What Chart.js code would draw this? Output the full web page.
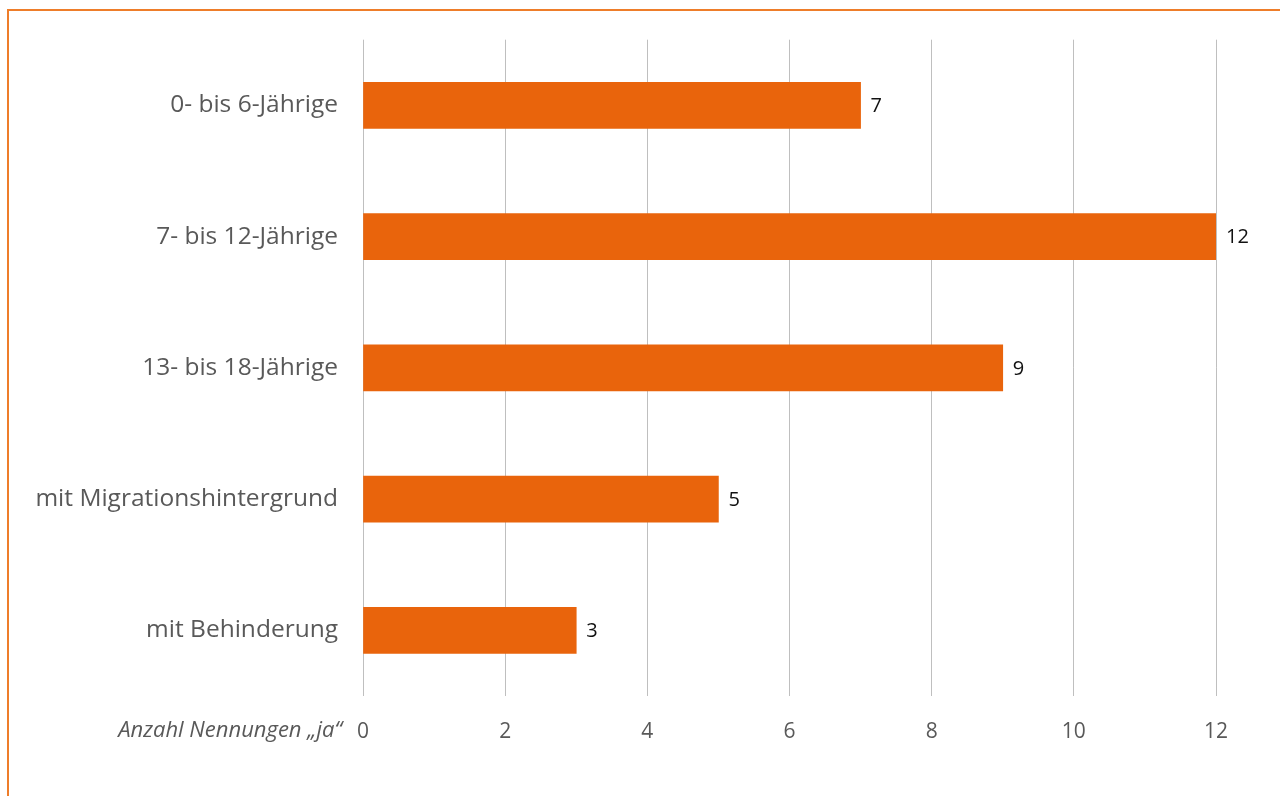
<!DOCTYPE html>
<html>
<head>
<meta charset="utf-8">
<script src="https://cdn.jsdelivr.net/npm/chart.js@4"></script>
<style>
    body { margin: 0; background: #ffffff; overflow: hidden; }
    #frame {
        position: absolute; left: 7px; top: 9px; width: 1400px; height: 900px;
        border-top: 2px solid #EE7D2A; border-left: 2px solid #EE7D2A;
    }
    #wrap { position: absolute; left: 0; top: 0; width: 1280px; height: 796px; }
</style>
</head>
<body>
<div id="frame"></div>
<div id="wrap"><canvas id="bar-chart"></canvas></div>
<script>
// chart data
var categories = ['0- bis 6-Jährige', '7- bis 12-Jährige', '13- bis 18-Jährige', 'mit Migrationshintergrund', 'mit Behinderung'];
var counts = [7, 12, 9, 5, 3];
var tickValues = [0, 2, 4, 6, 8, 10, 12];
var axisTitle = 'Anzahl Nennungen \u201Eja\u201C';

// writes the value next to each bar
var valueLabels = {
    id: 'valueLabels',
    afterDatasetsDraw: function(chart) {
        var c = chart.ctx;
        var meta = chart.getDatasetMeta(0);
        c.save();
        c.font = '20px "Open Sans"';
        c.fillStyle = '#111111';
        c.textAlign = 'left';
        c.textBaseline = 'middle';
        meta.data.forEach(function(bar, i) {
            c.fillText(counts[i], bar.x + 10, bar.y + 1);
        });
        c.restore();
    }
};

// writes the axis title left of the x tick labels
var axisCaption = {
    id: 'axisCaption',
    afterDraw: function(chart) {
        var c = chart.ctx;
        var area = chart.chartArea;
        c.save();
        c.font = 'italic 22px "Open Sans"';
        c.fillStyle = '#595959';
        c.textAlign = 'right';
        c.textBaseline = 'middle';
        c.fillText(axisTitle, area.left - 21, 731);
        c.restore();
    }
};

var ctx = document.getElementById('bar-chart').getContext('2d');

var myChart = new Chart(ctx, {
    type: 'bar',
    data: {
        labels: categories,
        datasets: [{
            data: counts,
            backgroundColor: '#E9640C',
            barThickness: 46
        }]
    },
    options: {
        indexAxis: 'y',
        responsive: true,
        maintainAspectRatio: false,
        animation: false,
        layout: { padding: { top: 38, right: 64, left: 0, bottom: 0 } },
        plugins: { legend: { display: false }, tooltip: { enabled: false } },
        scales: {
            x: {
                min: 0,
                max: 12,
                afterBuildTicks: function(scale) {
                    scale.ticks = tickValues.map(function(v) { return { value: v }; });
                },
                afterFit: function(scale) { scale.height = 100; },
                grid: { color: '#BFBFBF', lineWidth: 1, drawTicks: false },
                border: { display: false },
                ticks: {
                    padding: 23,
                    color: '#595959',
                    font: { family: 'Open Sans', size: 21 }
                }
            },
            y: {
                afterFit: function(scale) { scale.width = 363; },
                grid: { display: false, drawTicks: false },
                border: { display: false },
                ticks: {
                    padding: 25,
                    color: '#595959',
                    font: { family: 'Open Sans', size: 24.5 }
                }
            }
        }
    },
    plugins: [valueLabels, axisCaption]
});
</script>
</body>
</html>
